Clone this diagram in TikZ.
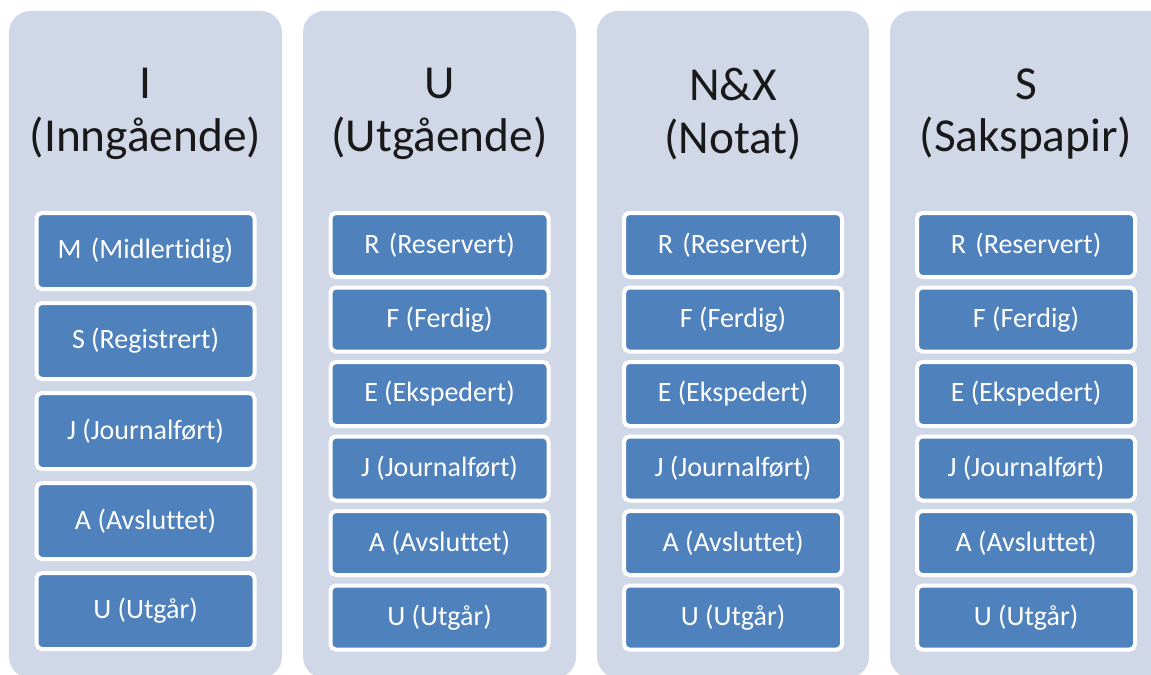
\documentclass[tikz,border=0pt]{standalone}
\usepackage{fontspec}
\setmainfont{Carlito}[Ligatures=NoCommon]
\usepackage{tikz}
\usetikzlibrary{positioning}
\definecolor{kindpanel}{HTML}{D0D8E8}
\definecolor{kindstate}{HTML}{4F81BD}
\tikzset{
  kindbox/.style={fill=kindpanel, rounded corners=16pt},
  kindtitle/.style={align=center, text=black!90, font=\fontsize{35.5}{39.5}\selectfont},
  statebox/.style={fill=kindstate, draw=white, line width=3pt, rounded corners=4pt,
    text=white, font=\fontsize{21}{23}\selectfont, minimum width=163.5pt, inner sep=0pt},
  tallbox/.style={statebox, minimum height=57pt},
  shortbox/.style={statebox, minimum height=48pt},
}

\begin{document}
\begin{tikzpicture}[x=0.75pt, y=-0.75pt]
  \useasboundingbox (0,0) rectangle (1151,674);
  \clip (0,0) rectangle (1151,674);
  % panels
  \fill[kindbox] (9,11) rectangle (282,678);
  \fill[kindbox] (303,11) rectangle (576,678);
  \fill[kindbox] (597,11) rectangle (869,678);
  \fill[kindbox] (890,11) rectangle (1175,678);
  % titles
  \node[kindtitle] (titleI) at (145.5,114) {I\\(Inngående)};
  \node[kindtitle] (titleU) at (439.5,114) {U\\(Utgående)};
  \node[kindtitle] (titleN) at (733,114) {N\&X\\(Notat)};
  \node[kindtitle] (titleS) at (1026,114) {S\\(Sakspapir)};
  % incoming: five states
  \foreach \i/\lab in {0/{M\,\,(Midlertidig)},1/{S (Registrert)},2/{J (Journalført)},3/{A (Avsluttet)},4/{U (Utgår)}}{
    \node[tallbox] (inn\i) at (145.5,251+90*\i) {\lab};
  }
  % outgoing, notes and case papers: six states
  \foreach \col/\x in {utg/439.5,not/733,sak/1026}{
    \foreach \i/\lab in {0/{R\,\,(Reservert)},1/{F (Ferdig)},2/{E (Ekspedert)},3/{J (Journalført)},4/{A (Avsluttet)},5/{U (Utgår)}}{
      \node[shortbox] (\col\i) at (\x,245+74.5*\i) {\lab};
    }
  }
\end{tikzpicture}
\end{document}
